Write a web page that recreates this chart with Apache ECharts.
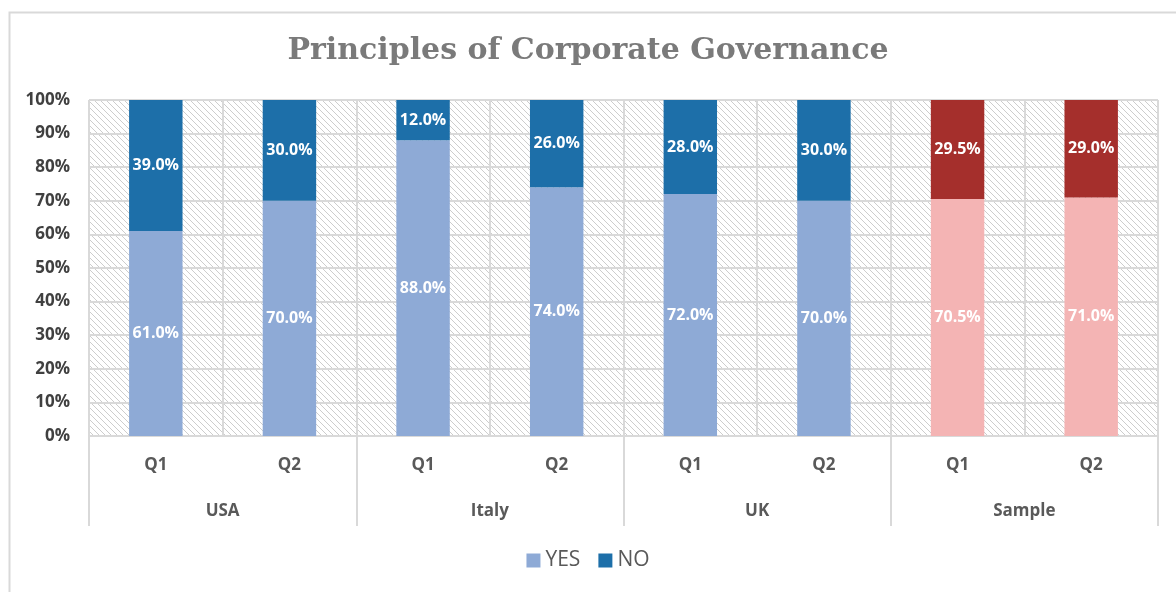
<!DOCTYPE html>
<html>
<head>
<meta charset="utf-8">
<script src="https://cdn.jsdelivr.net/npm/echarts@6/dist/echarts.min.js"></script>
<style>
  html, body { margin: 0; padding: 0; background: #fff; }
  #chart { width: 1176px; height: 592px; }
</style>
</head>
<body>
<div id="chart"></div>
<script>
const quarters = ['Q1', 'Q2', 'Q1', 'Q2', 'Q1', 'Q2', 'Q1', 'Q2'];
const groups = ['USA', 'Italy', 'UK', 'Sample'];
const yesValues = [61.0, 70.0, 88.0, 74.0, 72.0, 70.0, 70.5, 71.0];
const noValues = [39.0, 30.0, 12.0, 26.0, 28.0, 30.0, 29.5, 29.0];
const yTicks = [0, 10, 20, 30, 40, 50, 60, 70, 80, 90, 100];

const yesColor = '#8eaad6';
const noColor = '#1d6fa9';
const sampleYes = '#f4b4b4';
const sampleNo = '#a52f2c';
const sampleStart = 6;

// hatch pattern for the plot background
function makeHatch() {
  const s = 6;
  const c = document.createElement('canvas');
  c.width = s; c.height = s;
  const ctx = c.getContext('2d');
  ctx.fillStyle = '#ffffff';
  ctx.fillRect(0, 0, s, s);
  ctx.strokeStyle = '#cdcdcd';
  ctx.lineWidth = 1;
  for (let x = -s; x <= s; x += s) {
    ctx.beginPath();
    ctx.moveTo(x, 0);
    ctx.lineTo(x + s, s);
    ctx.stroke();
  }
  return c;
}

const chart = echarts.init(document.getElementById('chart'));

const labelStyle = {
  show: true,
  position: 'inside',
  color: '#fff',
  fontFamily: 'Open Sans',
  fontWeight: 'bold',
  fontSize: 16,
  formatter: p => p.value.toFixed(1) + '%'
};

chart.setOption({
  animation: false,
  title: {
    text: 'Principles of Corporate Governance',
    left: 'center',
    top: 31,
    textStyle: {
      fontFamily: 'DejaVu Serif',
      fontWeight: 'bold',
      fontSize: 30,
      color: '#7a7a7a'
    }
  },
  graphic: [{
    type: 'rect',
    left: 7,
    top: 10,
    shape: { width: 1200, height: 620 },
    style: { fill: 'none', stroke: '#d9d9d9', lineWidth: 2 },
    z: -1
  }],
  legend: {
    top: 545,
    left: 'center',
    itemWidth: 14,
    itemHeight: 14,
    itemGap: 18,
    icon: 'rect',
    textStyle: { fontFamily: 'Open Sans', fontSize: 21, color: '#595959' },
    data: ['YES', 'NO']
  },
  grid: {
    left: 89,
    right: 18,
    top: 100,
    bottom: 156,
    show: true,
    borderWidth: 0,
    backgroundColor: { image: makeHatch(), repeat: 'repeat' }
  },
  xAxis: [{
    type: 'category',
    data: quarters,
    position: 'bottom',
    axisLine: { show: true, lineStyle: { color: '#d9d9d9', width: 2 } },
    axisTick: { show: false },
    splitLine: { show: true, interval: 0, lineStyle: { color: '#d9d9d9', width: 2 } },
    axisLabel: {
      margin: 21,
      fontFamily: 'Open Sans',
      fontWeight: 'bold',
      fontSize: 17,
      color: '#595959'
    }
  }, {
    type: 'category',
    data: groups,
    position: 'bottom',
    axisLine: { show: false },
    axisTick: { show: true, length: 90, lineStyle: { color: '#d9d9d9', width: 2 } },
    splitLine: { show: false },
    axisLabel: {
      margin: 67,
      fontFamily: 'Open Sans',
      fontWeight: 'bold',
      fontSize: 17,
      color: '#595959'
    }
  }],
  yAxis: {
    type: 'value',
    min: yTicks[0],
    max: yTicks[yTicks.length - 1],
    interval: 10,
    axisLine: { show: false },
    axisTick: { show: false },
    splitLine: { show: true, lineStyle: { color: '#d9d9d9', width: 2 } },
    axisLabel: {
      margin: 19,
      formatter: '{value}%',
      fontFamily: 'Open Sans',
      fontWeight: 'bold',
      fontSize: 17,
      color: '#404040'
    }
  },
  series: [{
    name: 'YES',
    type: 'bar',
    stack: 'total',
    barWidth: '40%',
    itemStyle: { color: yesColor },
    label: labelStyle,
    data: yesValues.map((v, i) => i >= sampleStart ? { value: v, itemStyle: { color: sampleYes } } : v)
  }, {
    name: 'NO',
    type: 'bar',
    stack: 'total',
    barWidth: '40%',
    itemStyle: { color: noColor },
    label: labelStyle,
    data: noValues.map((v, i) => i >= sampleStart ? { value: v, itemStyle: { color: sampleNo } } : v)
  }]
});
</script>
</body>
</html>
